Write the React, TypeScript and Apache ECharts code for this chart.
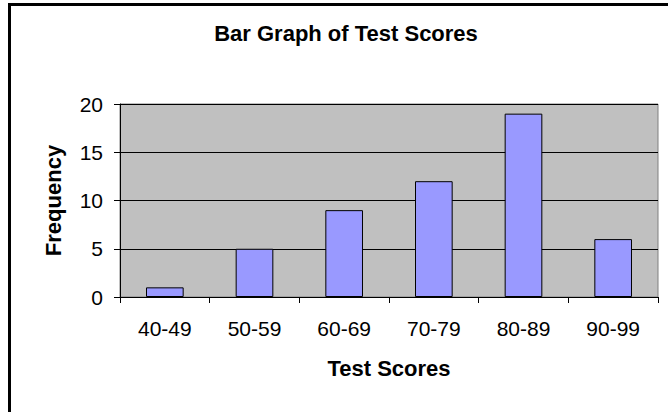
import React, { useEffect, useRef } from "react";
import * as echarts from "echarts";

const title = "Bar Graph of Test Scores";
const categories = ["40-49", "50-59", "60-69", "70-79", "80-89", "90-99"];
const frequencies = [1, 5, 9, 12, 19, 6];
const xAxisName = "Test Scores";
const yAxisName = "Frequency";

export default function App() {
  const ref = useRef<HTMLDivElement>(null);
  useEffect(() => {
    if (!ref.current) return;
    const chart = echarts.init(ref.current, null, { renderer: "svg" });
    const font = "'Liberation Sans', Arial, sans-serif";
    chart.setOption({
      animation: false,
      backgroundColor: "#ffffff",
      title: {
        text: title,
        left: 341,
        top: 17,
        textAlign: "center",
        textStyle: { fontFamily: font, fontWeight: "bold", fontSize: 22, color: "#000" },
      },
      graphic: [
        {
          type: "rect",
          shape: { x: 9.5, y: 4.5, width: 700, height: 500 },
          style: { fill: "none", stroke: "#000", lineWidth: 3 },
          silent: true,
        },
      ],
      grid: {
        left: 120,
        top: 104,
        right: 10,
        bottom: 115,
        show: true,
        backgroundColor: "#C0C0C0",
        borderColor: "#808080",
        borderWidth: 1,
      },
      xAxis: {
        type: "category",
        data: categories,
        name: xAxisName,
        nameLocation: "middle",
        nameGap: 60,
        nameTextStyle: { fontFamily: font, fontWeight: "bold", fontSize: 22, color: "#000" },
        axisLine: { lineStyle: { color: "#000", width: 1 } },
        axisTick: { show: true, length: 6, alignWithLabel: false, lineStyle: { color: "#000" } },
        axisLabel: { margin: 21, fontFamily: font, fontSize: 21, color: "#000" },
        splitLine: { show: false },
      },
      yAxis: {
        type: "value",
        min: 0,
        max: 20,
        interval: 5,
        name: yAxisName,
        nameLocation: "middle",
        nameGap: 56,
        nameTextStyle: { fontFamily: font, fontWeight: "bold", fontSize: 22, color: "#000" },
        axisLine: { show: true, lineStyle: { color: "#000", width: 1 } },
        axisTick: { show: true, length: 6, lineStyle: { color: "#000" } },
        axisLabel: { margin: 17, fontFamily: font, fontSize: 21, color: "#000" },
        splitLine: { show: true, lineStyle: { color: "#000", width: 1 } },
      },
      series: [
        {
          type: "bar",
          data: frequencies,
          barWidth: "42%",
          itemStyle: { color: "#9999FF", borderColor: "#000", borderWidth: 1 },
        },
      ],
    });
    return () => chart.dispose();
  }, []);
  return (
    <div
      ref={ref}
      style={{ position: "fixed", left: 0, top: 0, width: 668, height: 412 }}
    />
  );
}
